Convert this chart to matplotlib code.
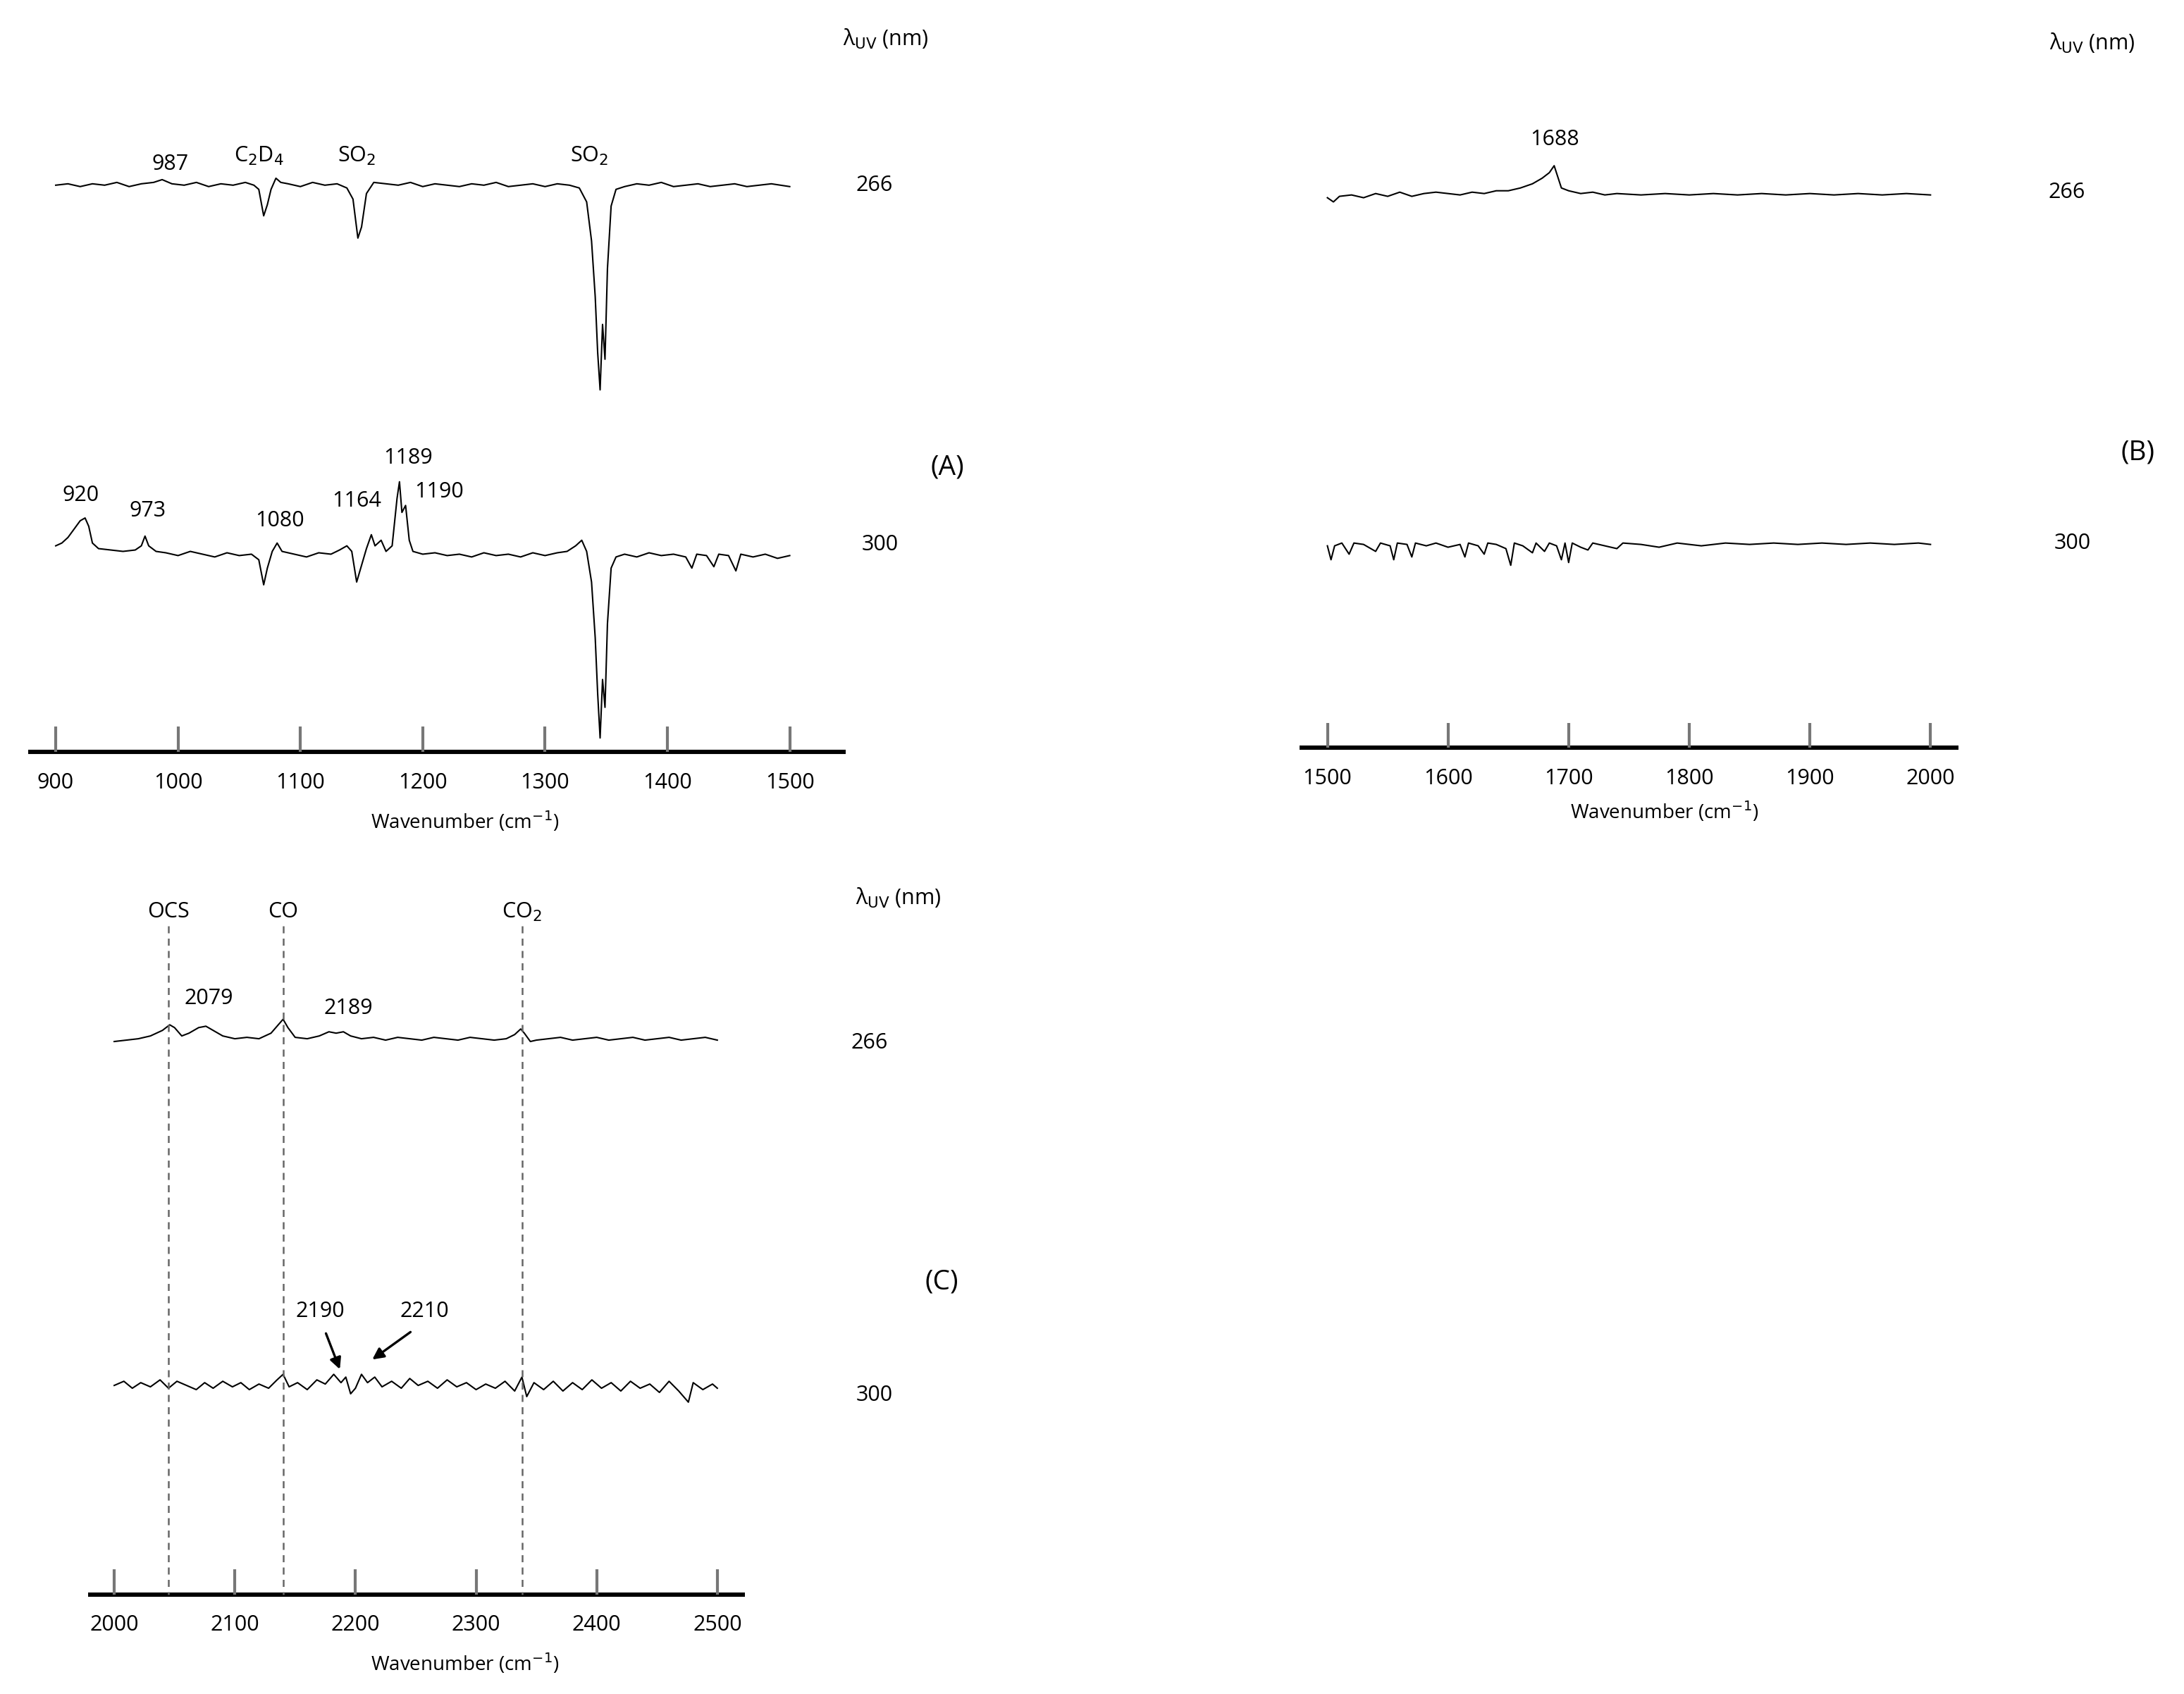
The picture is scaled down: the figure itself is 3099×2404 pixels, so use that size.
import numpy as np
import matplotlib.pyplot as plt

plt.rcParams['font.family'] = ['Open Sans', 'DejaVu Sans']
plt.rcParams['mathtext.fontset'] = 'dejavusans'

# spectra: (wavenumber, signal) ; signal positive = up
A266 = [(900,0),(910,1),(920,-1),(930,1),(940,0),(950,2),(960,-1),(970,1),(980,2),(987,4),(995,1),(1005,0),
        (1015,2),(1025,-1),(1035,1),(1045,0),(1055,2),(1062,0),(1066,-3),(1070,-22),(1073,-14),(1076,-3),
        (1080,5),(1084,2),(1090,1),(1100,-1),(1110,2),(1120,0),(1130,1),(1138,-2),(1143,-10),(1147,-38),
        (1150,-30),(1154,-6),(1160,2),(1170,1),(1180,0),(1190,2),(1200,-1),(1210,1),(1220,0),(1230,-1),
        (1240,1),(1250,0),(1260,2),(1270,-1),(1280,0),(1290,1),(1300,-1),(1310,1),(1320,0),(1328,-2),
        (1334,-12),(1338,-40),(1341,-80),(1343,-120),(1345,-147),(1347,-100),(1349,-125),(1351,-60),
        (1354,-15),(1358,-3),(1365,-1),(1375,1),(1385,0),(1395,2),(1405,-1),(1415,0),(1425,1),(1435,-1),
        (1445,0),(1455,1),(1465,-1),(1475,0),(1485,1),(1500,-1)]
A300 = [(900,6),(905,8),(910,12),(915,18),(920,24),(924,26),(927,20),(930,8),(935,4),(945,3),(955,2),(965,3),
        (970,6),(973,13),(976,6),(982,2),(990,1),(1000,-1),(1010,2),(1020,0),(1030,-2),(1040,1),(1050,-1),
        (1060,0),(1066,-4),(1070,-22),(1073,-10),(1077,2),(1081,8),(1085,2),(1095,0),(1105,-2),(1115,1),
        (1125,0),(1132,3),(1138,6),(1142,2),(1146,-20),(1150,-8),(1154,4),(1158,14),(1161,6),(1166,10),
        (1170,2),(1175,6),(1179,40),(1181,52),(1183,30),(1186,35),(1189,10),(1192,2),(1200,0),(1210,1),
        (1220,-1),(1230,0),(1240,-2),(1250,1),(1260,-1),(1270,0),(1280,-2),(1290,1),(1300,-1),(1310,1),
        (1318,2),(1325,6),(1330,10),(1334,2),(1338,-20),(1341,-60),(1343,-100),(1345,-132),(1347,-90),
        (1349,-110),(1351,-50),(1354,-10),(1358,-2),(1365,0),(1375,-2),(1385,1),(1395,-1),(1405,0),
        (1415,-2),(1420,-10),(1424,0),(1432,-1),(1438,-9),(1442,0),(1450,-1),(1456,-12),(1460,0),
        (1470,-2),(1480,0),(1490,-3),(1500,-1)]
B266 = [(1500,-3),(1505,-6),(1510,-2),(1520,-1),(1530,-3),(1540,0),(1550,-2),(1560,1),(1570,-2),(1580,0),
        (1590,1),(1600,0),(1610,-1),(1620,1),(1630,0),(1640,2),(1650,2),(1660,4),(1670,7),(1678,11),
        (1684,15),(1688,20),(1691,12),(1694,4),(1700,2),(1710,0),(1720,1),(1730,-1),(1740,0),(1760,-1),
        (1780,0),(1800,-1),(1820,0),(1840,-1),(1860,0),(1880,-1),(1900,0),(1920,-1),(1940,0),(1960,-1),
        (1980,0),(2000,-1)]
B300 = [(1500,-2),(1503,-12),(1506,-2),(1512,0),(1518,-8),(1522,0),(1530,-1),(1540,-6),(1544,0),(1552,-2),
        (1555,-12),(1558,0),(1566,-1),(1570,-10),(1573,0),(1582,-2),(1590,0),(1600,-3),(1610,-1),(1614,-10),
        (1617,0),(1625,-2),(1630,-8),(1633,0),(1640,-1),(1648,-4),(1652,-16),(1655,0),(1662,-2),(1670,-7),
        (1673,0),(1680,-6),(1684,0),(1690,-2),(1694,-12),(1697,0),(1700,-14),(1703,0),(1710,-3),(1716,-5),
        (1720,0),(1730,-2),(1740,-4),(1745,0),(1760,-1),(1775,-3),(1790,0),(1810,-2),(1830,0),(1850,-1),
        (1870,0),(1890,-1),(1910,0),(1930,-1),(1950,0),(1970,-1),(1990,0),(2000,-1)]
C266 = [(2000,-2),(2010,-1),(2020,0),(2030,2),(2040,6),(2046,10),(2050,8),(2056,2),(2062,4),(2070,8),
        (2076,9),(2082,6),(2090,2),(2100,0),(2110,1),(2120,0),(2130,4),(2136,10),(2140,14),(2144,8),
        (2150,1),(2160,0),(2170,2),(2178,5),(2184,4),(2190,5),(2196,2),(2205,0),(2215,1),(2225,-1),
        (2235,1),(2245,0),(2255,-1),(2265,1),(2275,0),(2285,-1),(2295,1),(2305,0),(2315,-1),(2325,0),
        (2332,3),(2337,7),(2340,4),(2345,-2),(2350,-1),(2360,0),(2370,1),(2380,-1),(2390,0),(2400,1),
        (2410,-1),(2420,0),(2430,1),(2440,-1),(2450,0),(2460,1),(2470,-1),(2480,0),(2490,1),(2500,-1)]
C300 = [(2000,0),(2008,3),(2015,-2),(2022,2),(2030,-1),(2038,4),(2045,-2),(2052,3),(2060,0),(2068,-3),
        (2075,2),(2082,-2),(2090,3),(2098,-1),(2105,2),(2112,-3),(2120,1),(2128,-2),(2135,4),(2140,8),
        (2145,-1),(2152,2),(2160,-3),(2168,4),(2175,1),(2182,8),(2188,2),(2192,6),(2196,-6),(2200,-2),
        (2205,8),(2210,2),(2216,6),(2222,-1),(2230,3),(2238,-2),(2245,5),(2252,0),(2260,3),(2268,-2),
        (2276,4),(2284,-1),(2292,2),(2300,-3),(2308,1),(2316,-2),(2324,3),(2332,-4),(2338,6),(2342,-8),
        (2348,2),(2356,-3),(2364,3),(2372,-4),(2380,2),(2388,-3),(2396,4),(2404,-2),(2412,2),(2420,-4),
        (2428,3),(2436,-2),(2444,1),(2452,-5),(2460,3),(2468,-4),(2476,-12),(2480,2),(2488,-3),(2496,1),
        (2500,-2)]

ticksA = [900, 1000, 1100, 1200, 1300, 1400, 1500]
ticksB = [1500, 1600, 1700, 1800, 1900, 2000]
ticksC = [2000, 2100, 2200, 2300, 2400, 2500]
linesC = [2045, 2140, 2338]
labelsC = ['OCS', 'CO', 'CO$_2$']

W, H = 1568, 1216.6   # reference layout units
fig = plt.figure(figsize=(15.495, 12.02), dpi=200)
FS = 11
lam = r'λ$_{\mathrm{UV}}$ (nm)'


def panel(px0, w0, k, xl, xr, ytop, ybot, yaxis, ticks, xlab_px, xlab_dy):
    ax = fig.add_axes([xl / W, 1 - ybot / H, (xr - xl) / W, (ybot - ytop) / H])
    tw = lambda p: w0 + (p - px0) / k
    ax.set_xlim(tw(xl), tw(xr))
    ax.set_ylim(ybot, ytop)
    ax.axis('off')
    ax.plot([tw(xl), tw(xr)], [yaxis, yaxis], color='black', lw=2.2, solid_capstyle='butt')
    ax.vlines(ticks, yaxis - 18, yaxis, color='#777777', lw=1.5)
    for t in ticks:
        ax.text(t, yaxis + 22, str(t), ha='center', va='center', fontsize=FS)
    ax.text(tw(xlab_px), yaxis + xlab_dy, 'Wavenumber (cm$^{-1}$)',
            ha='center', va='center', fontsize=FS - 1)
    return ax, tw


def spec(ax, data, base):
    w, v = np.array(data, dtype=float).T
    ax.plot(w, base - v, color='black', lw=0.75)


def txt(ax, tw, px, py, s, fs=FS):
    ax.text(tw(px), py, s, ha='center', va='center', fontsize=fs, clip_on=False)


# Panel A
ax, tw = panel(40, 900, 0.8783, 20, 607, 0, 600, 540, ticksA, 334, 50)
spec(ax, A266, 133)
spec(ax, A300, 398)
for px, py, s in [(122, 118, '987'), (186, 112, 'C$_2$D$_4$'), (256, 112, 'SO$_2$'), (423, 112, 'SO$_2$'),
                  (636, 28, lam), (628, 133, '266'), (632, 391, '300'),
                  (58, 356, '920'), (106, 367, '973'), (201, 374, '1080'), (256, 360, '1164'),
                  (293, 329, '1189'), (315, 353, '1190')]:
    txt(ax, tw, px, py, s)
txt(ax, tw, 680, 336, '(A)', 14)

# Panel B
ax, tw = panel(953, 1500, 0.866, 933, 1406, 0, 600, 537, ticksB, 1195, 46)
spec(ax, B266, 139)
spec(ax, B300, 390)
for px, py, s in [(1116, 100, '1688'), (1502, 31, lam), (1484, 138, '266'), (1488, 390, '300')]:
    txt(ax, tw, px, py, s)
txt(ax, tw, 1535, 325, '(B)', 14)

# Panel C
ax, tw = panel(82, 2000, 0.866, 63, 535, 620, 1210, 1145, ticksC, 334, 50)
spec(ax, C266, 746)
spec(ax, C300, 995)
ax.vlines(linesC, 665, 1145, color='#666666', lw=0.9, linestyles=(0, (4, 3)))
for x, s in zip(linesC, labelsC):
    ax.text(x, 655, s, ha='center', va='center', fontsize=FS)
for px, py, s in [(150, 717, '2079'), (250, 724, '2189'), (645, 645, lam), (624, 749, '266'),
                  (628, 1002, '300'), (230, 942, '2190'), (305, 942, '2210')]:
    txt(ax, tw, px, py, s)
txt(ax, tw, 676, 921, '(C)', 14)
ax.annotate('', xy=(tw(245), 986), xytext=(tw(233), 955),
            arrowprops=dict(arrowstyle='-|>', color='black', lw=1.2, mutation_scale=12))
ax.annotate('', xy=(tw(265), 978), xytext=(tw(297), 955),
            arrowprops=dict(arrowstyle='-|>', color='black', lw=1.2, mutation_scale=12))

fig.savefig('out.png', dpi=200)
